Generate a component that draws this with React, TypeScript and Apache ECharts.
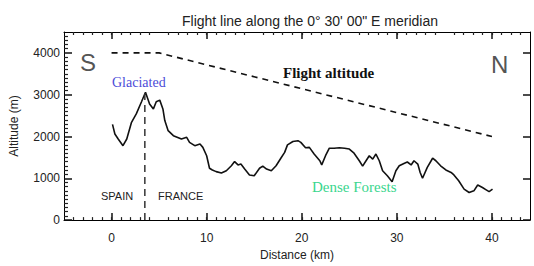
import React, { useEffect, useRef } from "react";
import * as echarts from "echarts";

const distanceKm = [0.1, 0.35, 0.7, 1.2, 1.6, 2.1, 2.6, 3.15, 3.57, 4.0, 4.4, 4.7, 5.07, 5.4, 5.6, 5.95, 6.5, 7.35, 7.9, 8.2, 8.75, 9.3, 9.6, 10.0, 10.3, 10.6, 11.0, 11.55, 12.07, 12.6, 12.94, 13.3, 13.6, 14.0, 14.5, 15.0, 15.56, 15.9, 16.3, 16.8, 17.3, 17.8, 18.2, 18.5, 19.07, 19.6, 19.9, 20.4, 20.8, 21.3, 21.9, 22.1, 22.5, 22.9, 23.4, 23.96, 24.5, 25.0, 25.5, 26.05, 26.4, 26.76, 27.1, 27.46, 27.8, 28.15, 28.5, 29.0, 29.5, 29.9, 30.25, 30.8, 31.1, 31.5, 31.8, 32.2, 32.45, 32.7, 33.2, 33.76, 34.1, 34.6, 35.15, 35.7, 36.0, 36.5, 37.07, 37.6, 38.1, 38.5, 39.0, 39.35, 39.7, 40.06];
const terrainM = [2290, 2060, 1940, 1780, 1940, 2340, 2540, 2830, 3060, 2780, 2660, 2830, 2870, 2660, 2380, 2140, 2020, 1940, 1980, 1860, 1780, 1820, 1740, 1540, 1240, 1200, 1160, 1125, 1180, 1300, 1400, 1320, 1340, 1220, 1080, 1060, 1240, 1290, 1220, 1180, 1300, 1480, 1620, 1800, 1880, 1900, 1860, 1730, 1740, 1580, 1420, 1320, 1540, 1720, 1720, 1730, 1720, 1700, 1600, 1420, 1290, 1420, 1540, 1460, 1580, 1420, 1180, 1060, 920, 1180, 1300, 1360, 1390, 1320, 1420, 1340, 1140, 1000, 1260, 1480, 1420, 1300, 1200, 1140, 1080, 940, 740, 660, 700, 840, 780, 730, 680, 740];

const flightKm = [0, 5, 40];
const flightM = [4000, 4000, 2000];

const borderKm = [3.5, 3.5];
const borderM = [0, 3060];

const xTicks = [0, 10, 20, 30, 40];
const yTicks = [0, 1000, 2000, 3000, 4000];

const axisFont = "Liberation Sans Narrow, Liberation Sans, sans-serif";

function xAxisDef(position: string, withLabels: boolean) {
  return {
    type: "value",
    position,
    min: -5,
    max: 44,
    interval: 10,
    splitLine: { show: false },
    axisLine: { show: true, onZero: false, lineStyle: { color: "#000", width: 1 } },
    axisTick: { show: true, inside: true, length: 7, customValues: xTicks, lineStyle: { color: "#111", width: 1.5 } },
    minorTick: { show: true, splitNumber: 10, length: 3, lineStyle: { color: "#222", width: 1.2 } },
    axisLabel: withLabels
      ? { show: true, margin: 12, fontFamily: axisFont, fontSize: 12, color: "#222", customValues: xTicks, formatter: (v: number) => String(v) }
      : { show: false },
    ...(withLabels
      ? {
          name: "Distance (km)",
          nameLocation: "middle",
          nameGap: 27,
          nameTextStyle: { fontFamily: axisFont, fontSize: 12, color: "#222" },
        }
      : {}),
  };
}

function yAxisDef(position: string, withLabels: boolean) {
  return {
    type: "value",
    position,
    min: 0,
    max: 4500,
    interval: 1000,
    splitLine: { show: false },
    axisLine: { show: true, onZero: false, lineStyle: { color: "#000", width: 1 } },
    axisTick: { show: true, inside: true, length: withLabels ? 8 : 7, customValues: yTicks, lineStyle: { color: "#111", width: 1.5 } },
    minorTick: withLabels
      ? { show: true, splitNumber: 10, length: 4, lineStyle: { color: "#222", width: 1.2 } }
      : { show: false },
    axisLabel: withLabels
      ? { show: true, margin: 4, fontFamily: axisFont, fontSize: 12, color: "#222", customValues: yTicks, formatter: (v: number) => String(v) }
      : { show: false },
    ...(withLabels
      ? {
          name: "Altitude (m)",
          nameLocation: "middle",
          nameGap: 44,
          nameTextStyle: { fontFamily: axisFont, fontSize: 12, color: "#222" },
        }
      : {}),
  };
}

export default function App() {
  const ref = useRef<HTMLDivElement>(null);
  useEffect(() => {
    document.body.style.margin = "0";
    const chart = echarts.init(ref.current!, null, { renderer: "svg" });
    chart.setOption({
      animation: false,
      title: {
        text: "Flight line along the 0° 30' 00\" E meridian",
        left: 305,
        textAlign: "center",
        top: 9,
        textStyle: { fontFamily: axisFont, fontSize: 14, fontWeight: "normal", color: "#222" },
      },
      grid: { left: 62, right: 4, top: 32, bottom: 45 },
      xAxis: [xAxisDef("bottom", true), xAxisDef("top", false)],
      yAxis: [yAxisDef("left", true), yAxisDef("right", false)],
      series: [
        {
          type: "line",
          data: distanceKm.map((d, i) => [d, terrainM[i]]),
          showSymbol: false,
          symbol: "none",
          lineStyle: { color: "#111", width: 1.6 },
        },
        {
          type: "line",
          data: flightKm.map((d, i) => [d, flightM[i]]),
          symbol: "none",
          lineStyle: { color: "#111", width: 1.6, type: [6, 5] },
        },
        {
          type: "line",
          data: borderKm.map((d, i) => [d, borderM[i]]),
          symbol: "none",
          lineStyle: { color: "#333", width: 1.5, type: [7, 5] },
        },
      ],
      graphic: [
        { type: "text", left: 80, top: 50, style: { text: "S", fontFamily: axisFont, fontSize: 24, fill: "#555" } },
        { type: "text", left: 491, top: 52, style: { text: "N", fontFamily: axisFont, fontSize: 24, fill: "#555" } },
        { type: "text", left: 112, top: 75, style: { text: "Glaciated", fontFamily: "Liberation Serif, serif", fontSize: 14, fill: "#4b4bd8" } },
        { type: "text", left: 283, top: 65, style: { text: "Flight altitude", fontFamily: "Liberation Serif, serif", fontSize: 15, fontWeight: "bold", fill: "#111" } },
        { type: "text", left: 312, top: 179, style: { text: "Dense Forests", fontFamily: "Liberation Serif, serif", fontSize: 15, fill: "#3ad68e" } },
        { type: "text", left: 101, top: 190, style: { text: "SPAIN", fontFamily: axisFont, fontSize: 11, fill: "#222" } },
        { type: "text", left: 158, top: 190, style: { text: "FRANCE", fontFamily: axisFont, fontSize: 11, fill: "#222" } },
      ],
    });
    return () => chart.dispose();
  }, []);
  return <div ref={ref} style={{ width: 534, height: 266 }} />;
}
